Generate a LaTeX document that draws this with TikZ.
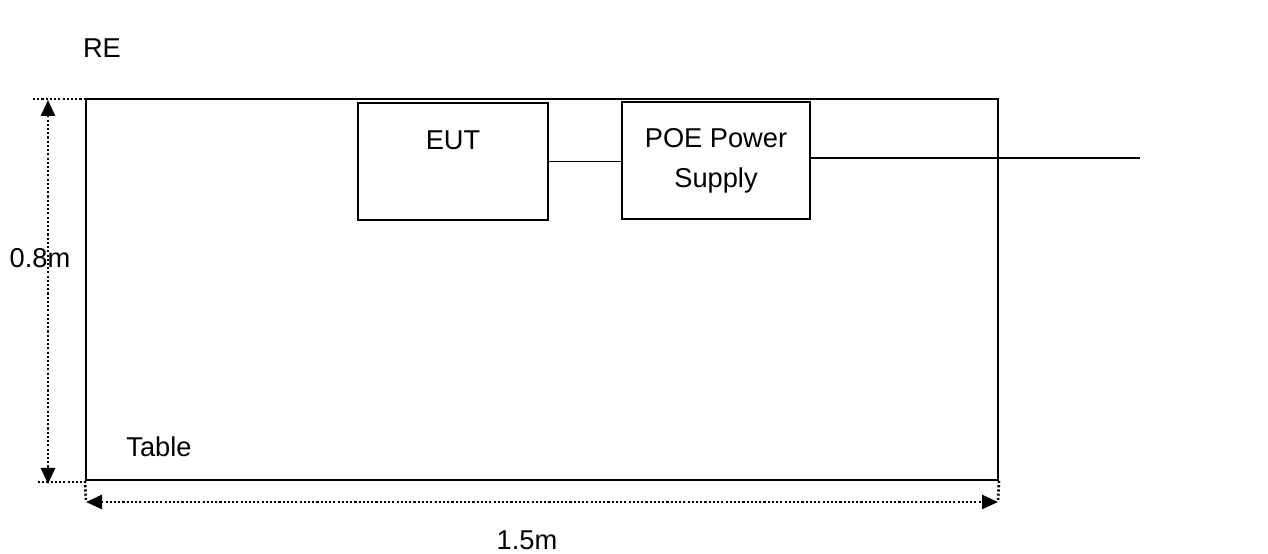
\documentclass[tikz,border=0pt]{standalone}
\usepackage{fontspec}
\setmainfont{Liberation Sans}
\usetikzlibrary{positioning,arrows.meta}
\begin{document}
\begin{tikzpicture}[
    box/.style={draw, line width=0.9pt, minimum width=#1, minimum height=2.34cm, inner sep=0pt},
    lbl/.style={font=\fontsize{15.5}{22.8}\selectfont, inner sep=0pt, align=center},
    dim/.style={line width=1.5pt, dash pattern=on 1.2pt off 1.2pt},
    dimarrow/.style={dim, {Triangle[length=0.32cm,width=0.28cm]}-{Triangle[length=0.32cm,width=0.28cm]}},
    cable/.style={line width=0.6pt}
]
    \useasboundingbox (0,0) rectangle (25.36,11.08);

    % table and devices
    \node[draw, line width=1.1pt, minimum width=18.24cm, minimum height=7.62cm, inner sep=0pt] (table) at (10.84,5.29) {};
    \node[box=3.80cm] (eut) at (9.06,7.85) {};
    \node[lbl, below=0.56cm of eut.north] (euttext) {EUT};
    \node[box=3.76cm, lbl] (poe) at (14.32,7.87) {POE Power\\Supply};
    \coordinate (cableend) at (22.8,7.92);

    % connections
    \draw[cable] (eut.east) -- (eut.east -| poe.west);
    \draw[cable] (poe.east |- cableend) -- (cableend);

    % dimensions
    \coordinate (topleft) at (0.66,9.10);
    \coordinate (botleft) at (0.76,1.44);
    \coordinate (vtop) at (0.96,9.08);
    \coordinate (vbot) at (0.96,1.40);
    \coordinate (hleft) at (1.72,1.04);
    \coordinate (hright) at (19.96,1.04);
    \draw[dim] (topleft) -- (topleft -| table.north west);
    \draw[dim] (botleft) -- (botleft -| table.south west);
    \draw[dim] (table.south west) -- (hleft);
    \draw[dim] (table.south east) -- (hright);
    \draw[dimarrow] (vtop) -- (vbot);
    \draw[dimarrow] (hleft) -- (hright);

    % labels
    \node[lbl] (re) at (2.04,10.12) {RE};
    \node[lbl] (height) at (0.80,5.92) {0.8m};
    \node[lbl] (width) at (10.54,0.28) {1.5m};
    \node[lbl] (tablelbl) at (3.18,2.14) {Table};
\end{tikzpicture}
\end{document}
